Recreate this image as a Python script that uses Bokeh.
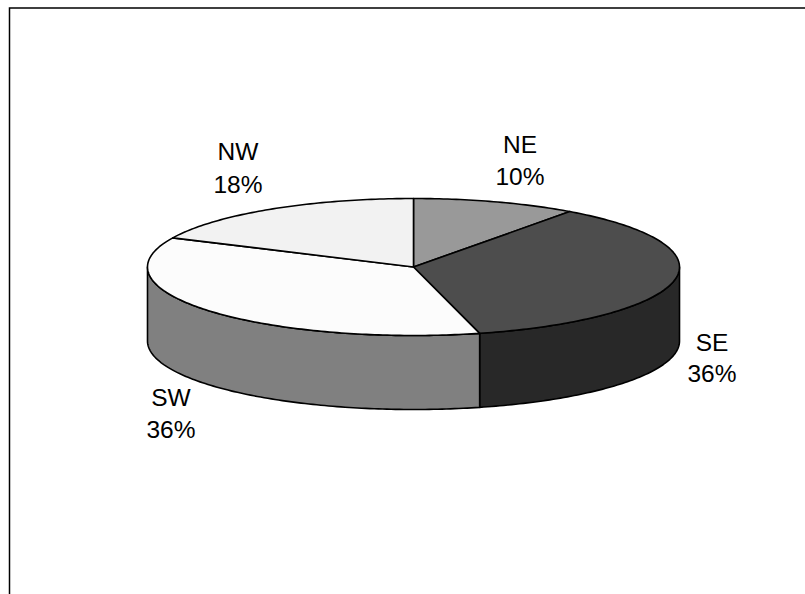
from bokeh.plotting import figure
from bokeh.models import Range1d
from bokeh.core.properties import value
from bokeh.embed import file_html
from bokeh.resources import INLINE
import numpy as np

# Market share by quadrant
categories = ["NE", "SE", "SW", "NW"]
shares = [10, 36, 36, 18]
percent_labels = ["10%", "36%", "36%", "18%"]

top_colors = ["#999999", "#4d4d4d", "#fcfcfc", "#f2f2f2"]
side_colors = {"SE": "#282828", "SW": "#808080"}

WIDTH, HEIGHT = 805, 594
CX, CY = 413.0, 266.5      # disc centre on the page
RX, RY = 266.0, 68.5       # disc semi-axes
DEPTH = 74.0               # height of the cylinder wall
FRAME_X, FRAME_Y = 9.0, 7.5

# Two-line labels, in page pixels: x centre, y of first line, y of second line
label_anchor = {
    "NE": (519.5, 144.0, 176.0),
    "SE": (711.5, 341.5, 373.0),
    "SW": (170.5, 397.0, 429.0),
    "NW": (237.5, 151.0, 184.0),
}

p = figure(width=WIDTH, height=HEIGHT, output_backend="svg", toolbar_location=None,
           min_border=0, x_range=Range1d(0, WIDTH), y_range=Range1d(HEIGHT, 0))
p.axis.visible = False
p.grid.visible = False
p.outline_line_color = None
p.background_fill_color = "white"
p.border_fill_color = "white"

# Open frame: only the top and left edges fall inside the page
p.line([FRAME_X, FRAME_X, WIDTH], [HEIGHT, FRAME_Y, FRAME_Y],
       line_color="black", line_width=1.5, line_join="miter")


def rim(turn_a, turn_b, drop=0.0):
    """Points on the ellipse between two clockwise-from-north turn fractions."""
    n = max(3, int(abs(turn_b - turn_a) * 400))
    t = np.linspace(turn_a, turn_b, n) * 2 * np.pi
    return CX + RX * np.sin(t), CY - RY * np.cos(t) + drop


edges = np.concatenate([[0], np.cumsum(shares)]) / np.sum(shares)
outline = dict(line_color="black", line_width=1.6, line_join="round")

# Cylinder wall: only the part of each slice on the near half of the rim
for name, a, b in zip(categories, edges[:-1], edges[1:]):
    lo, hi = max(a, 0.25), min(b, 0.75)
    if name in side_colors and lo < hi:
        xt, yt = rim(lo, hi)
        xb, yb = rim(hi, lo, DEPTH)
        p.patch(np.concatenate([xt, xb]), np.concatenate([yt, yb]),
                fill_color=side_colors[name], **outline)

# Top face of each slice
for color, a, b in zip(top_colors, edges[:-1], edges[1:]):
    xt, yt = rim(a, b)
    p.patch(np.concatenate([[CX], xt]), np.concatenate([[CY], yt]),
            fill_color=color, **outline)

# Labels: category name above its percentage
font = dict(text_font=value("Liberation Sans"), text_font_size="24.5px", text_color="black",
            text_align="center", text_baseline="alphabetic")
for name, pct in zip(categories, percent_labels):
    x, y1, y2 = label_anchor[name]
    p.text([x], [y1], text=[name], **font)
    p.text([x], [y2], text=[pct], **font)

open("out.html", "w").write(file_html(p, INLINE))
